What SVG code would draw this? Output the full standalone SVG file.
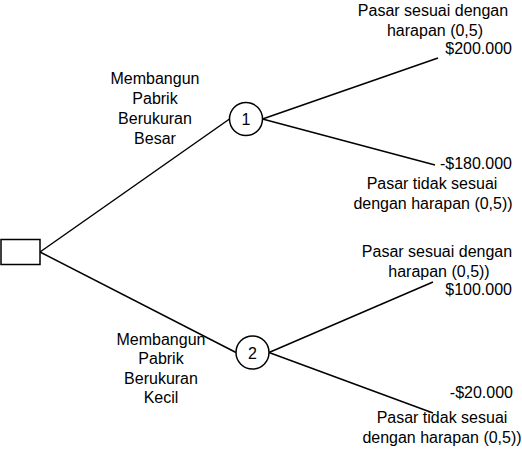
<svg xmlns="http://www.w3.org/2000/svg" width="522" height="453" viewBox="0 0 522 453">
<style>
.ln{stroke:#000;stroke-width:1.5;fill:none}
.nd{stroke:#000;stroke-width:1.5;fill:#fff}
text{font-family:"Liberation Sans",Arial,sans-serif;font-size:16px;fill:#000}
.c{text-anchor:middle}
.r{text-anchor:end}
</style>
<rect width="522" height="453" fill="#fff"/>
<g id="connectors">
<line class="ln" x1="40" y1="252" x2="229.5" y2="119"/>
<line class="ln" x1="40" y1="252" x2="236" y2="352.5"/>
<line class="ln" x1="262.5" y1="119" x2="438" y2="58"/>
<line class="ln" x1="262.5" y1="119" x2="435" y2="165"/>
<line class="ln" x1="269" y1="352.5" x2="433" y2="282"/>
<line class="ln" x1="269" y1="352.5" x2="433" y2="413"/>
</g>
<g id="decision">
<rect class="nd" x="1" y="239.5" width="39" height="25"/>
</g>
<g id="node1">
<circle class="nd" cx="246" cy="119" r="16.5"/>
<text class="c" x="246" y="125">1</text>
</g>
<g id="node2">
<circle class="nd" cx="252.5" cy="352.5" r="16.5"/>
<text class="c" x="252.5" y="358.5">2</text>
</g>
<g id="label-big">
<text class="c" x="155" y="84">Membangun</text>
<text class="c" x="155" y="104">Pabrik</text>
<text class="c" x="155" y="124">Berukuran</text>
<text class="c" x="155" y="144">Besar</text>
</g>
<g id="label-small">
<text class="c" x="161" y="345">Membangun</text>
<text class="c" x="161" y="364">Pabrik</text>
<text class="c" x="161" y="384">Berukuran</text>
<text class="c" x="161" y="403">Kecil</text>
</g>
<g id="out1">
<text class="c" x="433" y="16">Pasar sesuai dengan</text>
<text class="c" x="435" y="36">harapan (0,5)</text>
<text class="r" x="512" y="54">$200.000</text>
</g>
<g id="out2">
<text class="r" x="512" y="169">-$180.000</text>
<text class="c" x="432" y="189">Pasar tidak sesuai</text>
<text class="c" x="433" y="209">dengan harapan (0,5))</text>
</g>
<g id="out3">
<text class="c" x="437" y="257">Pasar sesuai dengan</text>
<text class="c" x="439" y="277">harapan (0,5))</text>
<text class="r" x="512" y="295">$100.000</text>
</g>
<g id="out4">
<text class="r" x="513" y="398">-$20.000</text>
<text class="c" x="442" y="423">Pasar tidak sesuai</text>
<text class="c" x="442" y="443">dengan harapan (0,5))</text>
</g>
</svg>
